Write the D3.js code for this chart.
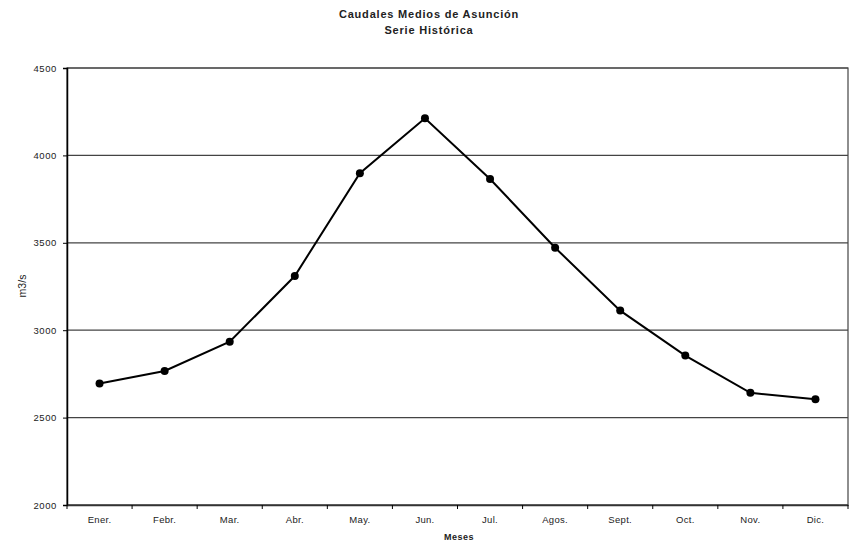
<!DOCTYPE html>
<html>
<head>
<meta charset="utf-8">
<script src="https://cdn.jsdelivr.net/npm/d3@7"></script>
<style>
  body { margin: 0; background: #fff; }
  text { font-family: "Liberation Sans", Arial, sans-serif; fill: #222; }
</style>
</head>
<body>
<div id="chart"></div>
<script>
// Datos
const meses = ['Ener.', 'Febr.', 'Mar.', 'Abr.', 'May.', 'Jun.', 'Jul.', 'Agos.', 'Sept.', 'Oct.', 'Nov.', 'Dic.'];
const caudales = [2695, 2767, 2934, 3310, 3898, 4212, 3865, 3472, 3112, 2855, 2642, 2605];
const yTicks = [2000, 2500, 3000, 3500, 4000, 4500];

const width = 854, height = 549;
const margin = { top: 68, right: 6, bottom: 44, left: 67 };
const w = width - margin.left - margin.right;
const h = height - margin.top - margin.bottom;

const svg = d3.select('#chart')
    .append('svg')
    .attr('width', width)
    .attr('height', height);

const g = svg.append('g')
    .attr('transform', `translate(${margin.left},${margin.top})`);

// Escalas
const x = d3.scaleBand().domain(meses).range([0, w]);
const y = d3.scaleLinear().domain([2000, 4500]).range([h, 0]);

// Borde del area de trazado
g.append('rect')
    .attr('x', 0).attr('y', 0)
    .attr('width', w).attr('height', h)
    .attr('fill', 'none')
    .attr('stroke', '#444')
    .attr('stroke-width', 1.2);

// Lineas de division
g.selectAll('.grid')
    .data(yTicks)
    .join('line')
    .attr('class', 'grid')
    .attr('x1', 0).attr('x2', w)
    .attr('y1', d => y(d)).attr('y2', d => y(d))
    .attr('stroke', '#444')
    .attr('stroke-width', 1.2);

// Eje Y
const yAxis = g.append('g')
    .call(d3.axisLeft(y).tickValues(yTicks).tickSize(4).tickPadding(6).tickFormat(d3.format('d')));
yAxis.select('.domain').attr('stroke', '#000').attr('stroke-width', 1.5);
yAxis.selectAll('.tick line').attr('stroke', '#000');
yAxis.selectAll('text')
    .style('font-size', '9.5px')
    .style('letter-spacing', '0.6px')
    .attr('fill', '#222');

// Eje X
const xTickPos = d3.range(meses.length + 1).map(i => i * x.bandwidth());
const xAxis = g.append('g')
    .attr('transform', `translate(0,${h})`)
    .call(d3.axisBottom(x).tickSize(0).tickPadding(11));
xAxis.select('.domain').attr('stroke', '#333').attr('stroke-width', 1.5);
xAxis.selectAll('text')
    .style('font-size', '9.5px')
    .style('letter-spacing', '0.3px')
    .attr('fill', '#333');
xAxis.selectAll('.xtick')
    .data(xTickPos)
    .join('line')
    .attr('class', 'xtick')
    .attr('x1', d => d).attr('x2', d => d)
    .attr('y1', 0).attr('y2', 4)
    .attr('stroke', '#000');

// Linea de la serie
const line = d3.line()
    .x((d, i) => x(meses[i]) + x.bandwidth() / 2)
    .y(d => y(d));

g.append('path')
    .datum(caudales)
    .attr('fill', 'none')
    .attr('stroke', '#000')
    .attr('stroke-width', 2)
    .attr('d', line);

g.selectAll('.dot')
    .data(caudales)
    .join('circle')
    .attr('class', 'dot')
    .attr('cx', (d, i) => x(meses[i]) + x.bandwidth() / 2)
    .attr('cy', d => y(d))
    .attr('r', 4)
    .attr('fill', '#000');

// Titulos
svg.append('text')
    .attr('x', 429).attr('y', 18)
    .attr('text-anchor', 'middle')
    .style('font-size', '11px')
    .style('font-weight', 'bold')
    .style('letter-spacing', '0.8px')
    .text('Caudales Medios de Asunción');

svg.append('text')
    .attr('x', 429).attr('y', 34)
    .attr('text-anchor', 'middle')
    .style('font-size', '11px')
    .style('font-weight', 'bold')
    .style('letter-spacing', '0.8px')
    .text('Serie Histórica');

svg.append('text')
    .attr('transform', 'translate(26,286) rotate(-90)')
    .attr('text-anchor', 'middle')
    .style('font-size', '10.5px')
    .text('m3/s');

svg.append('text')
    .attr('x', 459).attr('y', 540)
    .attr('text-anchor', 'middle')
    .style('font-size', '9px')
    .style('font-weight', 'bold')
    .style('letter-spacing', '0.5px')
    .text('Meses');
</script>
</body>
</html>
